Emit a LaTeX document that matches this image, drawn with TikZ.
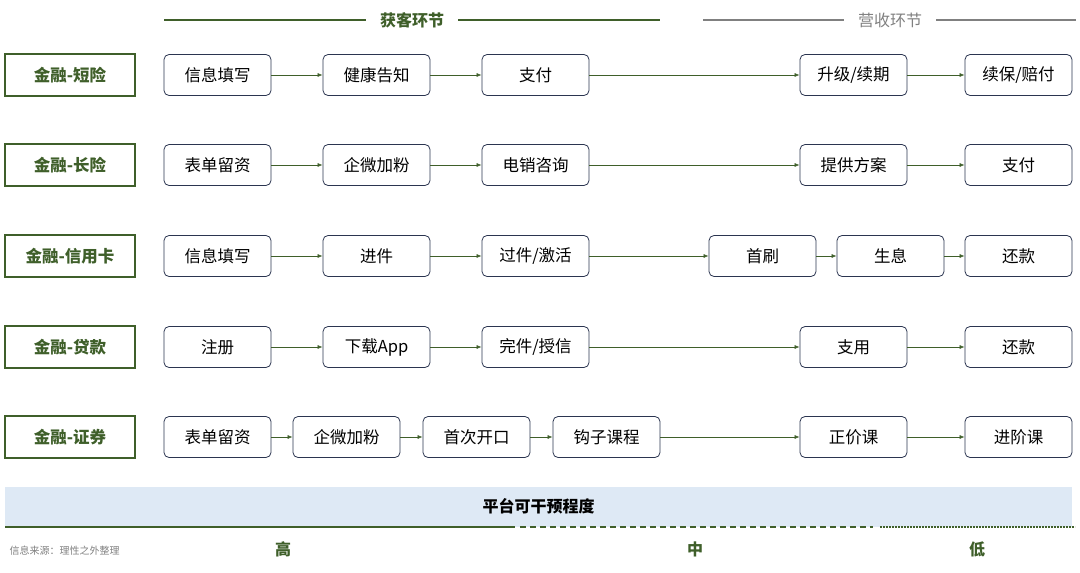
\documentclass[tikz,border=0pt]{standalone}
\usepackage{fontspec}
\setmainfont{Noto Sans CJK SC}
\usetikzlibrary{arrows.meta}
\definecolor{gr}{HTML}{3F5F2A}
\definecolor{nv}{HTML}{2B3550}
\definecolor{bl}{HTML}{DEE9F5}
\tikzset{
 cat/.style={draw=gr,line width=1.2pt,minimum width=130pt,minimum height=42pt,font=\bfseries\fontsize{16.5}{16.5}\selectfont,text=gr},
 bx/.style={draw=nv,rounded corners=5pt,line width=0.8pt,minimum width=107pt,minimum height=41pt,font=\fontsize{16.5}{16.5}\selectfont,text=black},
 ar/.style={-{Latex[length=5pt,width=4pt]},gr,line width=0.6pt}
}
\begin{document}
\begin{tikzpicture}[x=1pt,y=-1pt]
\useasboundingbox (0,0) rectangle (1080,573);
% headers
\node[font=\bfseries\fontsize{16}{16}\selectfont,text=gr,inner xsep=14pt] (h1) at (412,20) {获客环节};
\draw[gr,line width=1.5pt] (164,20) -- (h1.west) (h1.east) -- (660,20);
\node[font=\fontsize{16}{16}\selectfont,text=gray,inner xsep=14pt] (h2) at (890,20) {营收环节};
\draw[gray,line width=1.5pt] (703,20) -- (h2.west) (h2.east) -- (1076,20);
% rows
\foreach \y/\c/\n in {75/金融-短险/a,165/金融-长险/b,256/金融-信用卡/c,347/金融-贷款/d,437/金融-证券/e}
  \node[cat] (\n0) at (70,\y) {\c};
\node[bx] (a1) at (217.5,75) {信息填写};
\node[bx] (a2) at (376.5,75) {健康告知};
\node[bx] (a3) at (535.5,75) {支付};
\node[bx] (a4) at (853.5,75) {升级/续期};
\node[bx] (a5) at (1018.5,75) {续保/赔付};
\node[bx] (b1) at (217.5,165) {表单留资};
\node[bx] (b2) at (376.5,165) {企微加粉};
\node[bx] (b3) at (535.5,165) {电销咨询};
\node[bx] (b4) at (853.5,165) {提供方案};
\node[bx] (b5) at (1018.5,165) {支付};
\node[bx] (c1) at (217.5,256) {信息填写};
\node[bx] (c2) at (376.5,256) {进件};
\node[bx] (c3) at (535.5,256) {过件/激活};
\node[bx] (c4) at (762.5,256) {首刷};
\node[bx] (c5) at (890.5,256) {生息};
\node[bx] (c6) at (1018.5,256) {还款};
\node[bx] (d1) at (217.5,347) {注册};
\node[bx] (d2) at (376.5,347) {下载App};
\node[bx] (d3) at (535.5,347) {完件/授信};
\node[bx] (d4) at (853.5,347) {支用};
\node[bx] (d5) at (1018.5,347) {还款};
\node[bx] (e1) at (217.5,437) {表单留资};
\node[bx] (e2) at (346.5,437) {企微加粉};
\node[bx] (e3) at (476.5,437) {首次开口};
\node[bx] (e4) at (606.5,437) {钩子课程};
\node[bx] (e5) at (853.5,437) {正价课};
\node[bx] (e6) at (1018.5,437) {进阶课};
\foreach \a/\b in {a1/a2,a2/a3,a3/a4,a4/a5,b1/b2,b2/b3,b3/b4,b4/b5,c1/c2,c2/c3,c3/c4,c4/c5,c5/c6,d1/d2,d2/d3,d3/d4,d4/d5,e1/e2,e2/e3,e3/e4,e4/e5,e5/e6}
  \draw[ar] (\a) -- (\b);
% bottom
\node[fill=bl,minimum width=1067pt,minimum height=40pt,inner sep=0pt,font=\bfseries\fontsize{16}{16}\selectfont] (band) at (538.5,506.5) {平台可干预程度};
\draw[gr,line width=2pt] (5,527) -- (515,527);
\draw[gr,line width=2pt,dash pattern=on 6pt off 4pt] (520,527) -- (873,527);
\draw[gr,line width=2pt,dash pattern=on 2pt off 1pt] (880,527) -- (1075,527);
\node[font=\bfseries\fontsize{16}{16}\selectfont,text=gr] (l1) at (283,549) {高};
\node[font=\bfseries\fontsize{16}{16}\selectfont,text=gr] (l2) at (695,549) {中};
\node[font=\bfseries\fontsize{16}{16}\selectfont,text=gr] (l3) at (977,549) {低};
\node[font=\fontsize{10}{10}\selectfont,text=gray,anchor=west] (src) at (6,551) {信息来源：理性之外整理};
\end{tikzpicture}
\end{document}
